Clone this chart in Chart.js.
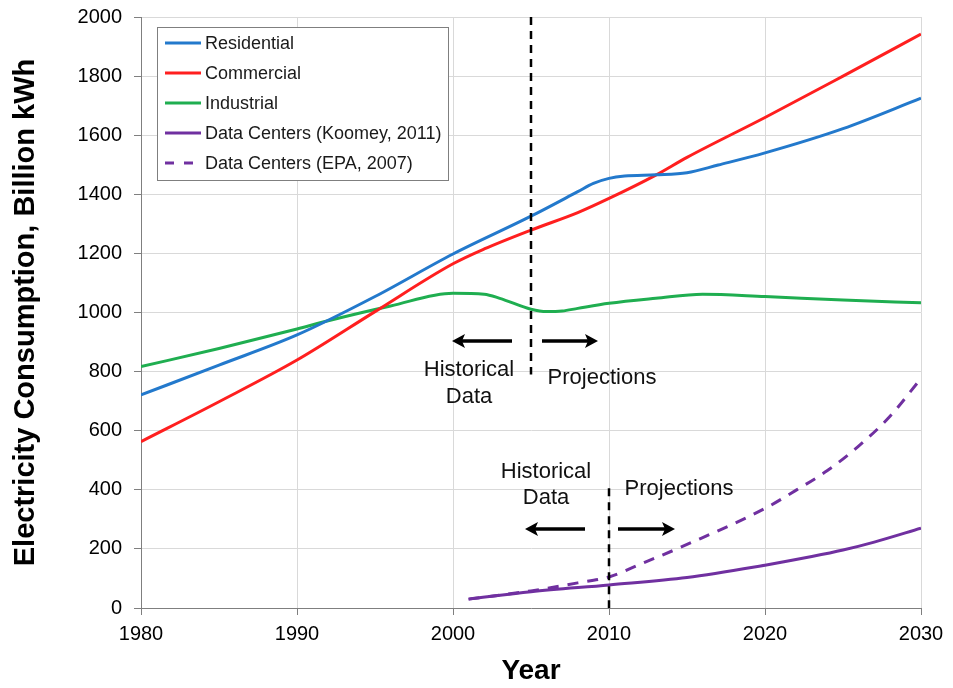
<!DOCTYPE html>
<html>
<head>
<meta charset="utf-8">
<script src="https://cdn.jsdelivr.net/npm/chart.js@4.4.1/dist/chart.umd.min.js"></script>
<style>
  html, body { margin: 0; padding: 0; background: #fff; }
  #wrap { width: 953px; height: 688px; }
</style>
</head>
<body>
<div id="wrap"><canvas id="chart-power" width="953" height="688"></canvas></div>
<script>
'use strict';

// series data (Billion kWh)
var res_years = [1980, 1985, 1990, 1995, 2000, 2005, 2008, 2009, 2010, 2011, 2013, 2015, 2017, 2020, 2025, 2030];
var res_values = [721, 822, 924, 1054, 1198, 1326, 1409, 1437, 1454, 1462, 1466, 1473, 1499, 1540, 1622, 1725];

var com_years = [1980, 1985, 1990, 1995, 2000, 2002, 2005, 2008, 2010, 2013, 2015, 2020, 2025, 2030];
var com_values = [563, 698, 839, 1003, 1165, 1215, 1279, 1338, 1386, 1465, 1525, 1660, 1800, 1942];

var ind_years = [1980, 1985, 1990, 1992, 1996, 2000, 2002, 2003, 2005, 2006, 2007, 2008, 2010, 2013, 2016, 2020, 2025, 2030];
var ind_values = [817, 878, 944, 972, 1022, 1065, 1062, 1048, 1011, 1003, 1005, 1014, 1031, 1048, 1062, 1054, 1042, 1033];

var koomey_years = [2001, 2005, 2010, 2015, 2020, 2023, 2025, 2027, 2030];
var koomey_values = [30, 55, 78, 103, 145, 174, 196, 223, 270];

var epa_years = [2001, 2005, 2008, 2010, 2012, 2015, 2020, 2022, 2024, 2026, 2028, 2030];
var epa_values = [30, 58, 85, 105, 148, 215, 337, 399, 465, 548, 648, 777];

var x_ticks = [1980, 1990, 2000, 2010, 2020, 2030];

// annotations: [year, from value, to value]
var split_lines = [[2005, 2000, 790], [2010, 405, 0]];

var toPoints = function(years, values) {
    var pts = [];
    for (var i = 0; i < years.length; i++) {
        pts.push({x: years[i], y: values[i]});
    }
    return pts;
};

var annotate = {
    id: 'annotate',
    afterDatasetsDraw: function(chart) {
        var ctx = chart.ctx;
        var xs = chart.scales.x;
        var ys = chart.scales.y;

        ctx.save();
        ctx.strokeStyle = '#000';
        ctx.lineWidth = 2.5;
        ctx.setLineDash([8, 6]);
        split_lines.forEach(function(l) {
            var px = xs.getPixelForValue(l[0]);
            ctx.beginPath();
            ctx.moveTo(px, ys.getPixelForValue(l[1]));
            ctx.lineTo(px, ys.getPixelForValue(l[2]));
            ctx.stroke();
        });
        ctx.setLineDash([]);

        var arrow = function(x1, x2, y) {
            var dir = x2 > x1 ? 1 : -1;
            ctx.lineWidth = 3.5;
            ctx.beginPath();
            ctx.moveTo(x1, y);
            ctx.lineTo(x2 - dir * 8, y);
            ctx.stroke();
            ctx.beginPath();
            ctx.moveTo(x2, y);
            ctx.lineTo(x2 - dir * 13, y - 7);
            ctx.lineTo(x2 - dir * 10, y);
            ctx.lineTo(x2 - dir * 13, y + 7);
            ctx.closePath();
            ctx.fill();
        };
        ctx.fillStyle = '#000';
        arrow(512, 452, 341);
        arrow(542, 598, 341);
        arrow(585, 525, 529);
        arrow(618, 675, 529);

        ctx.font = '22px "Liberation Sans", Arial, sans-serif';
        ctx.textAlign = 'center';
        ctx.textBaseline = 'middle';
        ctx.fillStyle = '#111';
        ctx.fillText('Historical', 469, 370);
        ctx.fillText('Data', 469, 397);
        ctx.fillText('Projections', 602, 378);
        ctx.fillText('Historical', 546, 472);
        ctx.fillText('Data', 546, 498);
        ctx.fillText('Projections', 679, 489);

        // legend box
        var lx = 157, ly = 27, lw = 291, lh = 153;
        ctx.fillStyle = '#fff';
        ctx.fillRect(lx, ly, lw, lh);
        ctx.strokeStyle = '#7f7f7f';
        ctx.lineWidth = 1;
        ctx.strokeRect(lx + 0.5, ly + 0.5, lw, lh);
        ctx.textAlign = 'left';
        ctx.font = '18px "Liberation Sans", Arial, sans-serif';
        chart.data.datasets.forEach(function(ds, i) {
            var y = 43 + i * 30;
            ctx.strokeStyle = ds.borderColor;
            ctx.lineWidth = 3;
            ctx.setLineDash(ds.borderDash ? [9, 10] : []);
            ctx.beginPath();
            ctx.moveTo(165, y);
            ctx.lineTo(201, y);
            ctx.stroke();
            ctx.setLineDash([]);
            ctx.fillStyle = '#1a1a1a';
            ctx.fillText(ds.label, 205, y + 1);
        });
        ctx.restore();
    }
};

var ctx_power = document.getElementById('chart-power').getContext('2d');

var chart_power = new Chart(ctx_power, {
    type: 'line',
    data: {
        datasets: [{
                label: 'Residential',
                data: toPoints(res_years, res_values),
                borderColor: '#2379cc',
                borderWidth: 3
            },
            {
                label: 'Commercial',
                data: toPoints(com_years, com_values),
                borderColor: '#ff1f1f',
                borderWidth: 3
            },
            {
                label: 'Industrial',
                data: toPoints(ind_years, ind_values),
                borderColor: '#1fae50',
                borderWidth: 3
            },
            {
                label: 'Data Centers (Koomey, 2011)',
                data: toPoints(koomey_years, koomey_values),
                borderColor: '#7030a0',
                borderWidth: 3
            },
            {
                label: 'Data Centers (EPA, 2007)',
                data: toPoints(epa_years, epa_values),
                borderColor: '#7030a0',
                borderWidth: 3,
                borderDash: [11, 9]
            }
        ]
    },
    options: {
        responsive: false,
        animation: false,
        events: [],
        layout: {
            padding: {top: 17, right: 32, left: 0, bottom: 0}
        },
        elements: {
            point: {radius: 0},
            line: {cubicInterpolationMode: 'monotone', fill: false}
        },
        plugins: {
            legend: {display: false},
            tooltip: {enabled: false}
        },
        scales: {
            x: {
                type: 'linear',
                min: 1980,
                max: 2030,
                afterBuildTicks: function(axis) {
                    axis.ticks = x_ticks.map(function(v) { return {value: v}; });
                },
                afterFit: function(axis) {
                    axis.height = 80;
                    axis.paddingLeft = 0;
                    axis.paddingRight = 0;
                },
                grid: {color: '#d9d9d9', tickColor: '#7f7f7f', tickLength: 7, lineWidth: 1},
                border: {color: '#7f7f7f', width: 1},
                ticks: {
                    color: '#000',
                    font: {family: '"Liberation Sans", Arial, sans-serif', size: 20},
                    padding: 7,
                    maxRotation: 0,
                    callback: function(v) { return String(v); }
                },
                title: {
                    display: true,
                    text: 'Year',
                    color: '#000',
                    font: {family: '"Liberation Sans", Arial, sans-serif', size: 28, weight: 'bold'},
                    padding: {top: 0, bottom: 0}
                }
            },
            y: {
                min: 0,
                max: 2000,
                afterFit: function(axis) {
                    axis.width = 141;
                    axis.paddingTop = 0;
                    axis.paddingBottom = 0;
                },
                grid: {color: '#d9d9d9', tickColor: '#7f7f7f', tickLength: 7, lineWidth: 1},
                border: {color: '#7f7f7f', width: 1},
                ticks: {
                    stepSize: 200,
                    color: '#000',
                    font: {family: '"Liberation Sans", Arial, sans-serif', size: 20},
                    padding: 12,
                    callback: function(v) { return String(v); }
                },
                title: {
                    display: true,
                    text: 'Electricity Consumption, Billion kWh',
                    color: '#000',
                    font: {family: '"Liberation Sans", Arial, sans-serif', size: 29, weight: 'bold'},
                    padding: {top: 9, bottom: 0}
                }
            }
        }
    },
    plugins: [annotate]
});
</script>
</body>
</html>
